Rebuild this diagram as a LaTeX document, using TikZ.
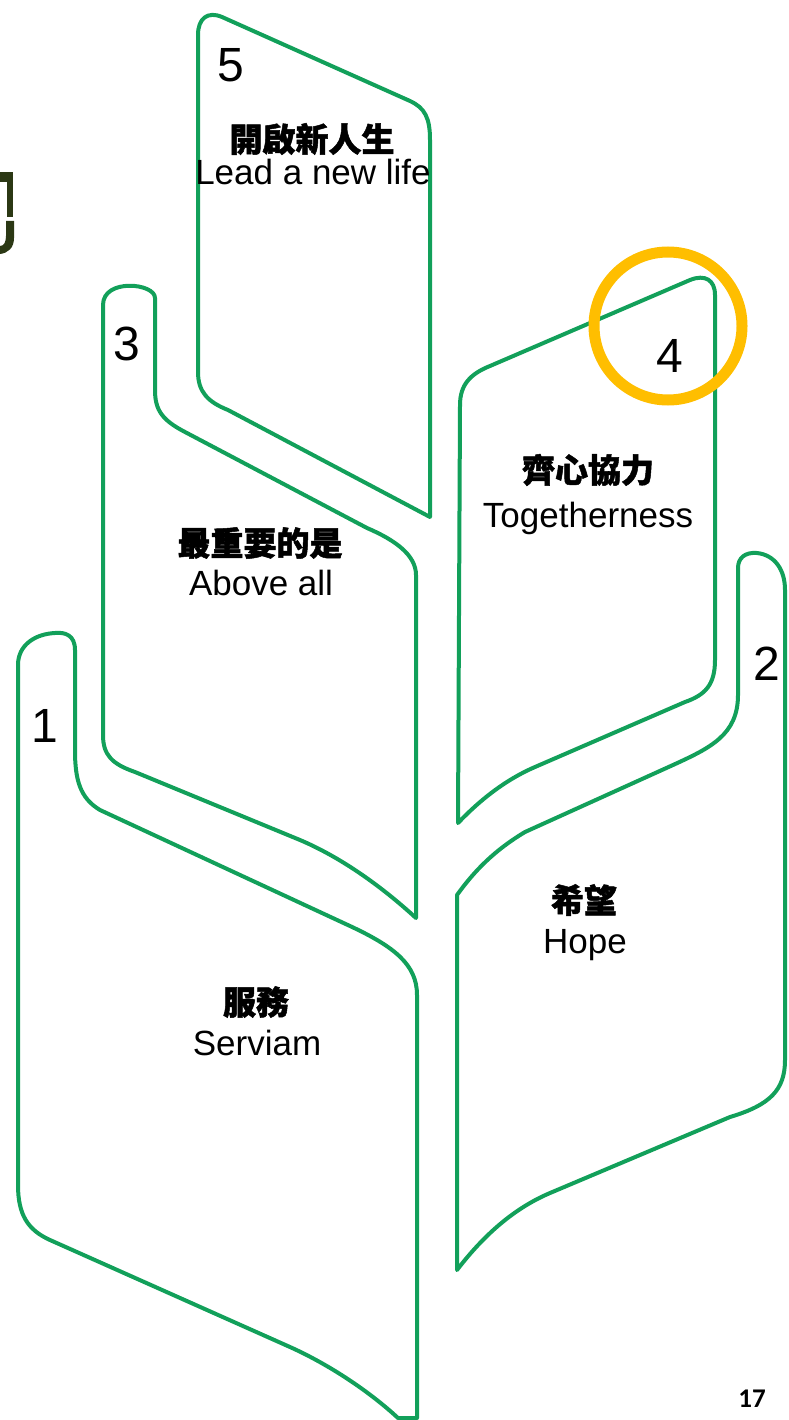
\documentclass[tikz,border=0pt]{standalone}
\usepackage{fontspec}
\setmainfont{Liberation Sans}
\newfontfamily\cjk{Noto Sans CJK TC}[BoldFeatures={FakeBold=1.5}]
\newfontfamily\pagefont{Carlito}
\usepackage{tikz}
\usetikzlibrary{positioning, calc}
\definecolor{leafgreen}{RGB}{18,160,90}
\definecolor{ringgold}{RGB}{255,190,0}
\definecolor{darkolive}{RGB}{43,56,20}
\tikzset{style={font=\fontsize{34}{40}\selectfont}}

\begin{document}
\begin{tikzpicture}[
            x=1pt, y=-1pt,
            leaf/.style={draw=leafgreen, line width=4pt, line join=round},
            num/.style={anchor=base, inner sep=0pt, font=\fontsize{48}{52}\selectfont},
            zh/.style={inner sep=0pt, font=\cjk\bfseries\fontsize{33}{36}\selectfont},
            en/.style={anchor=base, inner sep=0pt, font=\fontsize{35}{40}\selectfont},
        ]
        \useasboundingbox (0,0) rectangle (788,1420);
        % leaf 5
        \draw[leaf] (430,517) -- (430,140) .. controls (430,118) and (425,108) .. (410,101)
            -- (222,17) .. controls (208,11) and (198,18) .. (198,35)
            -- (198,372) .. controls (198,392) and (208,402) .. (228,410) -- cycle;
        % leaf 3
        \draw[leaf] (416,918) -- (416,575) .. controls (416,555) and (395,540) .. (367,528)
            -- (185,432) .. controls (162,420) and (155,410) .. (155,390)
            -- (155,298) .. controls (155,283) and (103,278) .. (103,305)
            -- (103,735) .. controls (103,755) and (112,764) .. (135,772)
            -- (300,840) .. controls (340,857) and (380,885) .. cycle;
        % leaf 1
        \draw[leaf] (417,1418) -- (417,995) .. controls (417,965) and (395,947) .. (350,926)
            -- (100,810) .. controls (80,798) and (75,780) .. (75,750)
            -- (75,650) .. controls (75,635) and (65,632) .. (55,633)
            .. controls (35,634) and (18,645) .. (18,665)
            -- (18,1185) .. controls (18,1215) and (28,1230) .. (50,1240)
            -- (290,1347) .. controls (330,1365) and (370,1392) .. (398,1418) -- cycle;
        % leaf 4
        \draw[leaf] (458,823) -- (460,405) .. controls (460,385) and (470,374) .. (490,366)
            -- (690,280) .. controls (705,274) and (715,280) .. (715,295)
            -- (715,660) .. controls (715,685) and (705,695) .. (685,702)
            -- (535,767) .. controls (505,780) and (480,800) .. cycle;
        % leaf 2
        \draw[leaf] (457,1270) -- (457,895) .. controls (475,870) and (495,850) .. (525,832)
            -- (673,765) .. controls (710,748) and (738,735) .. (738,695)
            -- (738,568) .. controls (738,558) and (745,552) .. (757,553)
            .. controls (775,555) and (785,570) .. (785,590)
            -- (785,1060) .. controls (785,1090) and (770,1105) .. (730,1117)
            -- (550,1193) .. controls (510,1210) and (480,1240) .. cycle;

        % numbers
        \node[num] (n5) at (231,82) {5};
        \node[num] (n3) at (127,360) {3};
        \node[num] (n4) at (670,372) {4};
        \node[num] (n1) at (45,742) {1};
        \node[num] (n2) at (767,680) {2};

        % labels
        \node[zh] (z5) at (312,139) {開啟新人生};
        \node[en] (e5) at (313,185) {Lead a new life};
        \node[zh] (z3) at (260,543) {最重要的是};
        \node[en] (e3) at (261,595) {Above all};
        \node[zh] (z4) at (588,470) {齊心協力};
        \node[en] (e4) at (588,527) {Togetherness};
        \node[zh] (z2) at (584,900) {希望};
        \node[en] (e2) at (585,953) {Hope};
        \node[zh] (z1) at (256,1002) {服務};
        \node[en] (e1) at (257,1055) {Serviam};

        % ring round the 4
        \draw[ringgold, line width=11pt] (668,326) circle (74);

        % cut-off heading glyph
        \fill[darkolive] (0,172) rectangle (13,182);
        \fill[darkolive] (7,182) rectangle (13,217);
        \fill[darkolive] (6,221) -- (14,221) -- (14,238) .. controls (14,248) and (8,253) .. (0,254)
            -- (0,246) .. controls (4,246) and (6,242) .. (6,236) -- cycle;

        % page number
        \node[anchor=base, inner sep=0pt, font=\pagefont\bfseries\fontsize{27}{30}\selectfont] (pg) at (752,1407) {17};
\end{tikzpicture}
\end{document}
